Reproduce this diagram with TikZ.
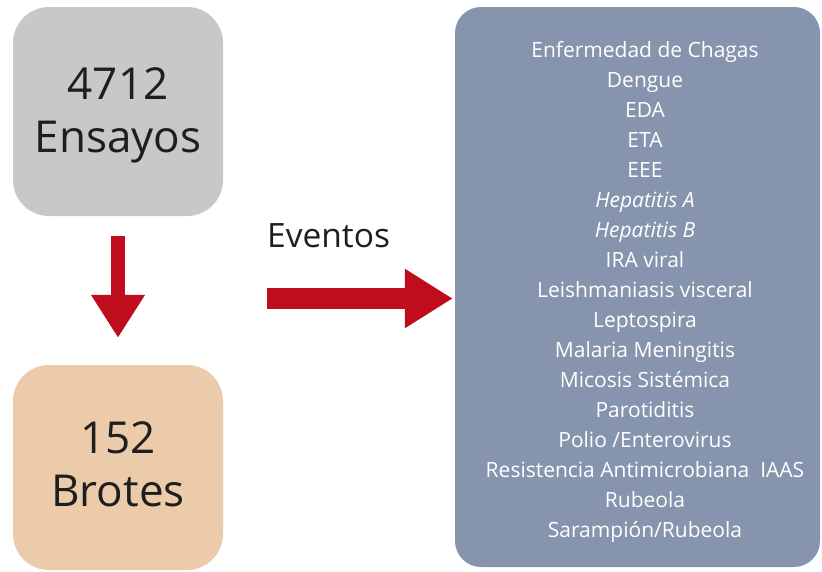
\documentclass[tikz,border=0pt]{standalone}
\usepackage{fontspec}
\setmainfont{Open Sans}
\usetikzlibrary{arrows.meta}
\definecolor{ensgray}{HTML}{C8C8C8}
\definecolor{brotan}{HTML}{EBCBAA}
\definecolor{listblue}{HTML}{8794AD}
\definecolor{arrowred}{HTML}{C00D1E}
\definecolor{txtdark}{HTML}{1E1E1E}
\begin{document}
\begin{tikzpicture}[x=1pt,y=-1pt,
    bigbox/.style={rounded corners=36pt, minimum width=210pt, inner sep=0pt},
    bigtext/.style={align=center, inner sep=0pt, text=txtdark, font=\fontsize{44}{53}\selectfont},
    redarrow/.style={draw=arrowred, fill=arrowred, line width=#1}]
        \useasboundingbox (0,0) rectangle (822,571);
        \node[bigbox, fill=ensgray, minimum height=209pt] (ens) at (118,111.5) {};
        \node[bigtext] (enstxt) at (118,115) {4712\\Ensayos};
        \node[bigbox, fill=brotan, minimum height=205pt] (bro) at (118,467.5) {};
        \node[bigtext] (brotxt) at (118,464) {152\\Brotes};
        \node[fill=listblue, rounded corners=26pt, minimum width=365pt, minimum height=560pt] (list) at (637.5,287) {};
        \node[align=center, inner sep=0pt, text=white, font=\fontsize{21}{30}\selectfont] (listtxt) at (645,292) {
            Enfermedad de Chagas\\
            Dengue\\
            EDA\\
            ETA\\
            EEE\\
            \textit{Hepatitis A}\\
            \textit{Hepatitis B}\\
            IRA viral\\
            Leishmaniasis visceral\\
            Leptospira\\
            Malaria Meningitis\\
            Micosis Sistémica\\
            Parotiditis\\
            Polio /Enterovirus\\
            Resistencia Antimicrobiana~~IAAS\\
            Rubeola\\
            Sarampión/Rubeola};
        \node[anchor=base west, inner sep=0pt, text=txtdark, font=\fontsize{33.5}{40}\selectfont] (ev) at (267,247) {Eventos};
        \coordinate (evstart) at (267,298.5);
        \draw[redarrow=14pt, -{Triangle[width=51pt,length=43pt]}, shorten <=20pt, shorten >=27pt] (ens) -- (bro);
        \draw[redarrow=21pt, -{Triangle[width=56pt,length=48pt]}, shorten >=2pt] (evstart) -- (evstart -| list.west);
\end{tikzpicture}
\end{document}
